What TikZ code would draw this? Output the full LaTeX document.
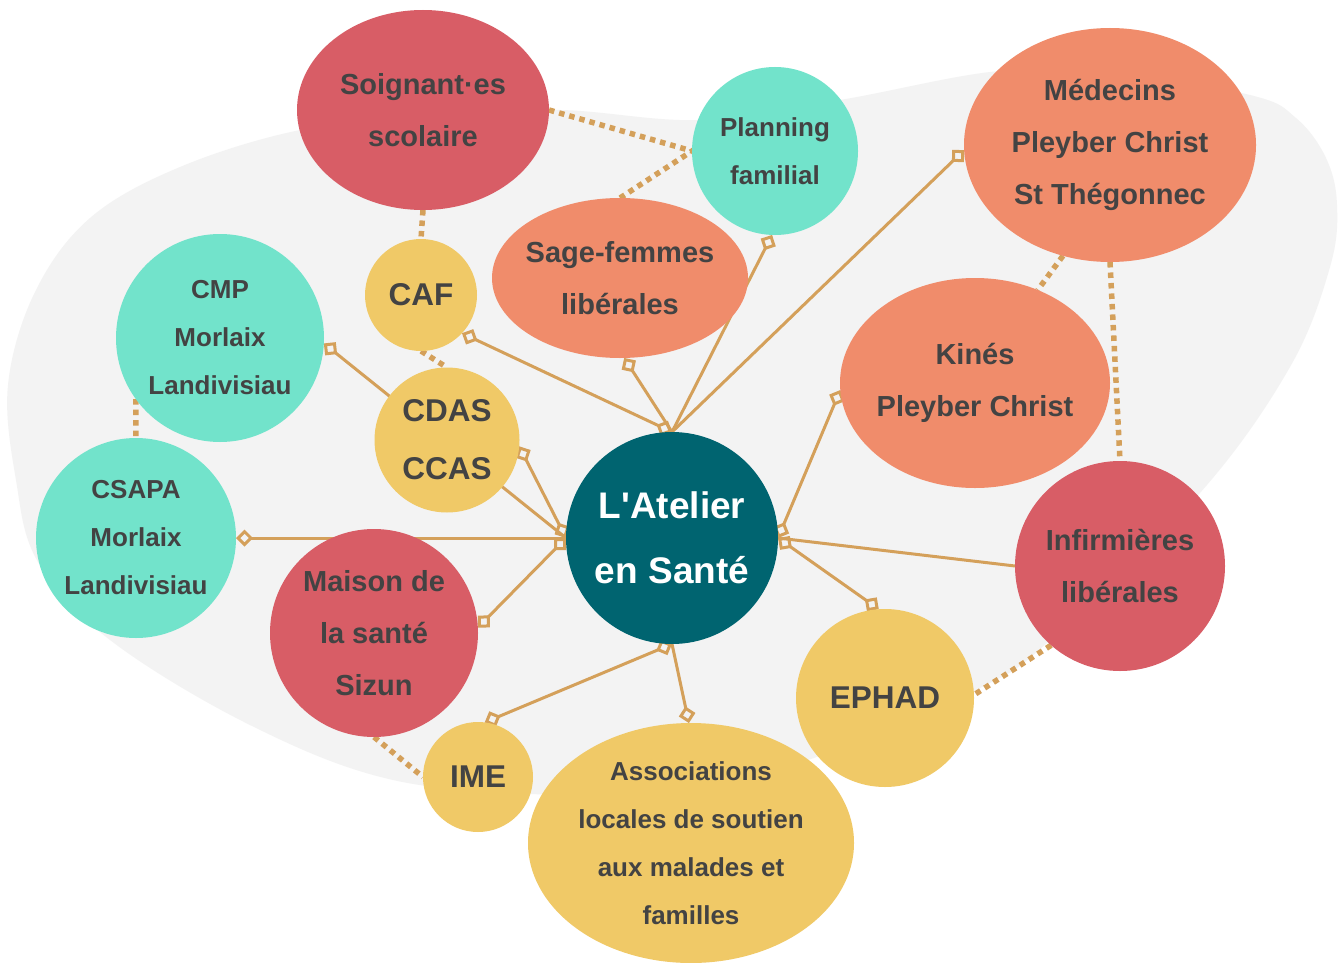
\documentclass[tikz,border=0pt]{standalone}
\usepackage{fontspec}
\setmainfont{Liberation Sans}
\usetikzlibrary{arrows.meta,shapes.geometric}
\definecolor{coral}{HTML}{D85D66}
\definecolor{mint}{HTML}{72E3CB}
\definecolor{salmon}{HTML}{F08C6B}
\definecolor{sun}{HTML}{F0C967}
\definecolor{petrol}{HTML}{006470}
\definecolor{linkc}{HTML}{D4A05A}
\definecolor{haze}{HTML}{F3F3F3}
\definecolor{ink}{HTML}{434343}
\pgfdeclarelayer{backdrop}
\pgfdeclarelayer{links}
\pgfsetlayers{backdrop,links,main}
\tikzset{
  mk/.tip={Turned Square[open, length=17pt, width=17pt, line width=3pt]},
  bubble/.style={fill=#1, inner sep=0pt, outer sep=0pt},
  disc/.style={circle, minimum size=#1},
  oval/.style 2 args={ellipse, minimum width=#1, minimum height=#2},
  small/.style={font=\bfseries\fontsize{26}{48}\selectfont, text=ink, align=center},
  medium/.style={font=\bfseries\fontsize{29}{52}\selectfont, text=ink, align=center},
  large/.style={font=\bfseries\fontsize{31.5}{58}\selectfont, text=ink, align=center},
  hub/.style={font=\bfseries\fontsize{37}{65}\selectfont, text=white, align=center},
  link/.style={draw=linkc, line width=3pt},
  dotlink/.style={draw=linkc, line width=5.5pt, dash pattern=on 5.5pt off 5pt},
}
\begin{document}
\begin{tikzpicture}[x=1pt,y=-1pt]
\useasboundingbox (0,0) rectangle (1343,963);

% light backdrop shape
\begin{pgfonlayer}{backdrop}
\fill[white] (0,0) rectangle (1343,963);
\fill[haze] plot[smooth cycle, tension=0.6] coordinates {
  (300,130) (180,167) (90,218) (35,292) (8,385) (16,480) (38,562)
  (110,640) (250,725) (393,780) (560,795) (700,790) (850,745)
  (980,688) (1047,643) (1200,493) (1290,367) (1330,267) (1337,205)
  (1326,158) (1296,118) (1250,95) (1100,70) (990,72) (840,100) (700,120)
  (560,110) (430,115)};
\end{pgfonlayer}

% partners
\node[bubble=coral, oval={252}{200}, label={[medium]center:{Soignant·es\\scolaire}}] (soignant) at (423,110) {};
\node[bubble=salmon, oval={256}{160}, label={[medium]center:{Sage-femmes\\libérales}}] (sage) at (620,278) {};
\node[bubble=mint, oval={166}{168}, label={[small]center:{Planning\\familial}}] (planning) at (775,151) {};
\node[bubble=salmon, oval={292}{234}, label={[medium]center:{Médecins\\Pleyber Christ\\St Thégonnec}}] (medecins) at (1110,145) {};
\node[bubble=sun, disc=112, label={[large]center:CAF}] (caf) at (421,295) {};
\node[bubble=mint, disc=208, label={[small]center:{CMP\\Morlaix\\Landivisiau}}] (cmp) at (220,338) {};
\node[bubble=sun, disc=145, label={[large]center:{CDAS\\CCAS}}] (cdas) at (447,440) {};
\node[bubble=salmon, oval={270}{210}, label={[medium]center:{Kinés\\Pleyber Christ}}] (kines) at (975,383) {};
\node[bubble=mint, disc=200, label={[small]center:{CSAPA\\Morlaix\\Landivisiau}}] (csapa) at (136,538) {};
\node[bubble=petrol, disc=212, label={[hub]center:{L\textquotesingle Atelier\\en Santé}}] (atelier) at (672,538) {};
\node[bubble=coral, disc=208, label={[medium]center:{Maison de\\la santé\\Sizun}}] (maison) at (374,633) {};
\node[bubble=coral, disc=210, label={[medium]center:{Infirmières\\libérales}}] (infirmieres) at (1120,566) {};
\node[bubble=sun, disc=178, label={[large]center:EPHAD}] (ephad) at (885,698) {};
\node[bubble=sun, disc=110, label={[large]center:IME}] (ime) at (478,777) {};
\node[bubble=sun, oval={326}{240}, label={[small]center:{Associations\\locales de soutien\\aux malades et\\familles}}] (assoc) at (691,843) {};

% connectors, kept beneath the bubbles
\begin{pgfonlayer}{links}
\draw[link, mk-mk] (caf.-43) -- (atelier.north);
\draw[link, mk-] (sage.-87) -- (atelier.north);
\draw[link, mk-] (planning.-92) -- (atelier.north);
\draw[link, mk-] (medecins.182) -- (atelier.north);
\draw[link, mk-mk] (kines.183) -- (atelier.east);
\draw[link] (infirmieres.west) -- (atelier.east);
\draw[link, mk-mk] (ephad.94) -- (atelier.east);
\draw[link, mk-] (assoc.91) -- (atelier.south);
\draw[link, mk-mk] (ime.83) -- (atelier.south);
\draw[link, mk-mk] (maison.3) -- (atelier.west);
\draw[link, mk-] (csapa.east) -- (atelier.west);
\draw[link, mk-mk] (cdas.-5) -- (atelier.west);
\draw[link, mk-] (cmp.-3) -- (atelier.west);

\draw[dotlink] (soignant.east) -- (planning.west);
\draw[dotlink] (sage.north) -- (planning.west);
\draw[dotlink] (soignant.south) -- (caf.north);
\draw[dotlink] (caf.south) -- (cdas.north);
\draw[dotlink] (cmp.216) -- (csapa.north);
\draw[dotlink] (medecins.-113) -- (kines.56);
\draw[dotlink] (medecins.south) -- (infirmieres.north);
\draw[dotlink] (infirmieres.-131) -- (ephad.2);
\draw[dotlink] (maison.south) -- (ime.west);
\end{pgfonlayer}
\end{tikzpicture}
\end{document}
